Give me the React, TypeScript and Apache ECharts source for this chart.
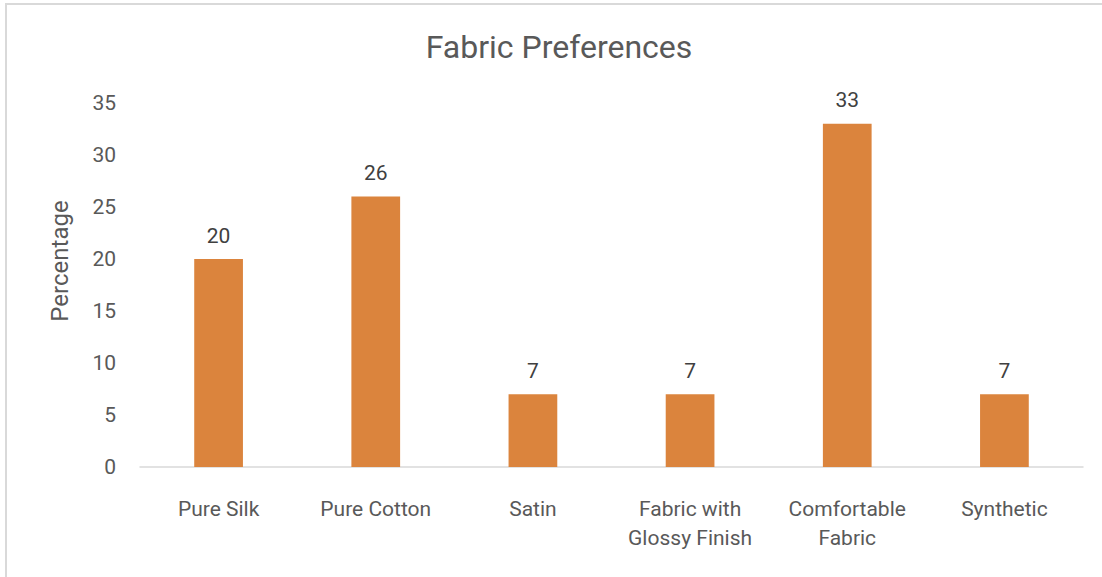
import React, { useEffect, useRef } from "react";
import * as echarts from "echarts";

const categories = [
  "Pure Silk",
  "Pure Cotton",
  "Satin",
  "Fabric with\nGlossy Finish",
  "Comfortable\nFabric",
  "Synthetic",
];
const percentages = [20, 26, 7, 7, 33, 7];
const yTicks = { min: 0, max: 35, interval: 5 };
const chartTitle = "Fabric Preferences";
const yAxisTitle = "Percentage";

export default function App() {
  const ref = useRef<HTMLDivElement>(null);
  useEffect(() => {
    if (!ref.current) return;
    const chart = echarts.init(ref.current, undefined, { renderer: "svg" });
    const font = "Roboto";
    chart.setOption({
      animation: false,
      backgroundColor: "#ffffff",
      graphic: [
        {
          type: "rect",
          shape: { x: 6, y: 4, width: 1110, height: 590 },
          style: { fill: "none", stroke: "#d9d9d9", lineWidth: 2 },
          silent: true,
        },
        {
          type: "text",
          x: 559,
          y: 47,
          style: {
            text: chartTitle,
            fontFamily: font,
            fontSize: 32,
            fill: "#595959",
            align: "center",
            verticalAlign: "middle",
          },
        },
        {
          type: "text",
          x: 60,
          y: 261,
          rotation: Math.PI / 2,
          style: {
            text: yAxisTitle,
            fontFamily: font,
            fontSize: 24,
            fill: "#595959",
            align: "center",
            verticalAlign: "middle",
          },
        },
      ],
      grid: { left: 140, right: 19, top: 103, bottom: 110 },
      xAxis: {
        type: "category",
        data: categories,
        axisLine: { show: true, lineStyle: { color: "#d9d9d9", width: 1.5 } },
        axisTick: { show: false },
        axisLabel: {
          interval: 0,
          margin: 27,
          fontFamily: font,
          fontSize: 21,
          lineHeight: 29,
          color: "#595959",
        },
      },
      yAxis: {
        type: "value",
        min: yTicks.min,
        max: yTicks.max,
        interval: yTicks.interval,
        axisLine: { show: false },
        axisTick: { show: false },
        splitLine: { show: false },
        axisLabel: { fontFamily: font, fontSize: 21, color: "#595959", margin: 24 },
      },
      series: [
        {
          type: "bar",
          data: percentages,
          barWidth: "31%",
          itemStyle: { color: "#db843d" },
          label: {
            show: true,
            position: "top",
            distance: 13,
            fontFamily: font,
            fontSize: 21,
            color: "#404040",
          },
        },
      ],
    });
    return () => chart.dispose();
  }, []);
  return (
    <div
      ref={ref}
      style={{ position: "fixed", left: 0, top: 0, width: 1102, height: 577 }}
    />
  );
}
